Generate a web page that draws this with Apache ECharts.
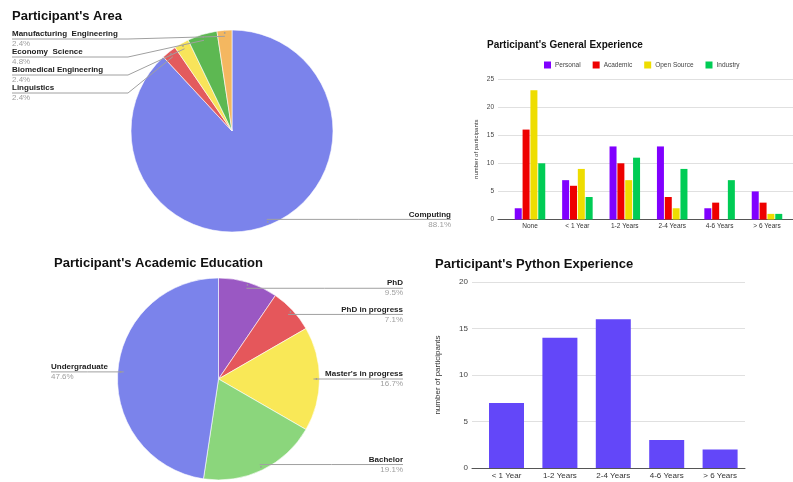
<!DOCTYPE html>
<html><head><meta charset="utf-8">
<script src="https://cdn.jsdelivr.net/npm/echarts@6/dist/echarts.min.js"></script>
<style>html,body{margin:0;padding:0;background:#fff}#c{width:793px;height:482px}</style>
</head><body><div id="c"></div>
<script>
// ---- data ----
const areaNames = ['Computing', 'Linguistics', 'Biomedical Engineering', 'Economy  Science', 'Manufacturing  Engineering'];
const areaCounts = [37, 1, 1, 2, 1];
const eduNames = ['PhD', 'PhD in progress', "Master's in progress", 'Bachelor', 'Undergraduate'];
const eduCounts = [4, 3, 7, 8, 20];
const expCategories = ['None', '< 1 Year', '1-2 Years', '2-4 Years', '4-6 Years', '> 6 Years'];
const expSeriesNames = ['Personal', 'Academic', 'Open Source', 'Industry'];
const expPersonal = [2, 7, 13, 13, 2, 5];
const expAcademic = [16, 6, 10, 4, 3, 3];
const expOpenSource = [23, 9, 7, 2, 0, 1];
const expIndustry = [10, 4, 11, 9, 7, 1];
const pyCategories = ['< 1 Year', '1-2 Years', '2-4 Years', '4-6 Years', '> 6 Years'];
const pyCounts = [7, 14, 16, 3, 2];
const expAxis = {min: 0, max: 25, interval: 5};
const pyAxis = {min: 0, max: 20, interval: 5};

// ---- styles ----
const areaColors = ['#7b83eb', '#e35b5d', '#f8e45a', '#5db852', '#f4b760'];
const eduColors = ['#9a58c3', '#e5575b', '#f9e857', '#8bd67c', '#7b83eb'];
const expColors = ['#8000ff', '#ee0000', '#eedd00', '#00cc55'];
const pyColor = '#6347f9';
const FONT = '"Liberation Sans", Arial, sans-serif';

const chart = echarts.init(document.getElementById('c'), null, {renderer: 'canvas'});

function makeLayout(cx, cy, r, opts) {
  return function (p) {
    const pts = p.labelLinePoints;
    if (!pts) return {};
    const dx = pts[0][0] - cx, dy = pts[0][1] - cy, d = Math.hypot(dx, dy) || 1;
    const q = [cx + dx / d * r * 0.94, cy + dy / d * r * 0.94];
    const o = opts(p.dataIndex, q);
    const y = o.y != null ? o.y : q[1];
    const mid = o.elbow != null ? o.elbow : (q[0] + o.edge) / 2;
    return {
      x: o.edge, y: y, align: o.side, verticalAlign: 'middle',
      labelLinePoints: [q, [mid, y], [o.edge, y]]
    };
  };
}

const pieLabel = {
  show: true,
  position: 'outside',
  formatter: p => '{n|' + p.name + '}\n{p|' + p.percent.toFixed(1) + '%}',
  rich: {
    n: {fontSize: 8, fontWeight: 'bold', color: '#222', lineHeight: 10, fontFamily: FONT},
    p: {fontSize: 8, color: '#9e9e9e', lineHeight: 10, fontFamily: FONT}
  }
};
const pieLine = {show: true, showAbove: true, lineStyle: {color: '#a0a0a0', width: 1}};

const leftYs = [0, 93, 75, 57, 39];

// mode: 'base' coloured sectors; 'labels' transparent overlay carrying labels + guide lines;
// 'dots' transparent ring whose inside labels mark the start of each guide line
function pieSeries(center, names, counts, colors, layoutOpts, mode) {
  const s = {
    type: 'pie', center: center, radius: 101, startAngle: 90, clockwise: true,
    avoidLabelOverlap: false, silent: true, z: mode === 'base' ? 2 : 5,
    itemStyle: mode === 'base' ? {borderColor: '#fff', borderWidth: 0.6} : {borderWidth: 0},
    data: names.map((n, i) => ({name: n, value: counts[i],
      itemStyle: {color: mode === 'base' ? colors[i] : 'rgba(255,255,255,0)'}})),
    label: {show: false},
    labelLine: {show: false}
  };
  if (mode === 'labels') {
    s.label = pieLabel;
    s.labelLine = pieLine;
    s.labelLayout = makeLayout(center[0], center[1], 101, layoutOpts);
  } else if (mode === 'dots') {
    s.radius = [89, 101];
    s.z = 6;
    s.label = {show: true, position: 'inside', formatter: '\u25CF', fontSize: 4, color: '#9a9a9a', lineHeight: 4};
  }
  return s;
}

const areaLayout = (i, q) => i === 0 ? {side: 'right', edge: 451} : {side: 'left', edge: 12, y: leftYs[i], elbow: 128};
const eduLayout = (i, q) => q[0] < 218.5 ? {side: 'left', edge: 51} : {side: 'right', edge: 403};

const option = {
  animation: false,
  textStyle: {fontFamily: FONT},
  title: [
    {text: "Participant's Area", left: 12, top: 9.5, padding: 0, textStyle: {fontSize: 13, fontWeight: 'bold', color: '#111'}},
    {text: "Participant's General Experience", left: 487, top: 40.5, padding: 0, textStyle: {fontSize: 10, fontWeight: 'bold', color: '#111'}},
    {text: "Participant's Academic Education", left: 54, top: 256.5, padding: 0, textStyle: {fontSize: 13, fontWeight: 'bold', color: '#111'}},
    {text: "Participant's Python Experience", left: 435, top: 257.5, padding: 0, textStyle: {fontSize: 13, fontWeight: 'bold', color: '#111'}}
  ],
  legend: {
    data: expSeriesNames, left: 544, top: 61.5, itemWidth: 7, itemHeight: 7, itemGap: 12, icon: 'rect',
    padding: 0, textStyle: {fontSize: 6.5, color: '#444', padding: [0, 0, 0, -1]}
  },
  grid: [
    {left: 498, top: 79, width: 295, height: 140.5},
    {left: 506.3, top: 79, width: 284.4, height: 140.5},
    {left: 472, top: 282, width: 273, height: 186},
    {left: 479.8, top: 282, width: 267, height: 186}
  ],
  xAxis: [
    {gridIndex: 0, type: 'value', min: 0, max: 1, axisLabel: {show: false}, axisTick: {show: false}, splitLine: {show: false},
      axisLine: {show: true, lineStyle: {color: '#555', width: 1}}},
    {gridIndex: 1, type: 'category', data: expCategories, axisLine: {show: false}, axisTick: {show: false},
      axisLabel: {fontSize: 6.5, color: '#333', margin: 3}},
    {gridIndex: 2, type: 'value', min: 0, max: 1, axisLabel: {show: false}, axisTick: {show: false}, splitLine: {show: false},
      axisLine: {show: true, lineStyle: {color: '#555', width: 1}}},
    {gridIndex: 3, type: 'category', data: pyCategories, axisLine: {show: false}, axisTick: {show: false},
      axisLabel: {fontSize: 8, color: '#333', margin: 4}}
  ],
  yAxis: [
    {gridIndex: 0, type: 'value', min: expAxis.min, max: expAxis.max, interval: expAxis.interval,
      axisLabel: {fontSize: 6.5, color: '#444', margin: 4}, axisLine: {show: false}, axisTick: {show: false},
      splitLine: {lineStyle: {color: '#e0e0e0', width: 1}},
      name: 'number of participants', nameLocation: 'middle', nameGap: 19, nameTextStyle: {fontSize: 6, color: '#333'}},
    {gridIndex: 1, type: 'value', min: expAxis.min, max: expAxis.max, interval: expAxis.interval, show: false},
    {gridIndex: 2, type: 'value', min: pyAxis.min, max: pyAxis.max, interval: pyAxis.interval,
      axisLabel: {fontSize: 8, color: '#444', margin: 4}, axisLine: {show: false}, axisTick: {show: false},
      splitLine: {lineStyle: {color: '#e0e0e0', width: 1}},
      name: 'number of participants', nameLocation: 'middle', nameGap: 30, nameTextStyle: {fontSize: 8, color: '#333'}},
    {gridIndex: 3, type: 'value', min: pyAxis.min, max: pyAxis.max, interval: pyAxis.interval, show: false}
  ],
  series: [
    pieSeries([232, 131], areaNames, areaCounts, areaColors, areaLayout, 'base'),
    pieSeries([218.5, 379], eduNames, eduCounts, eduColors, eduLayout, 'base'),
    pieSeries([232, 131], areaNames, areaCounts, areaColors, areaLayout, 'labels'),
    pieSeries([218.5, 379], eduNames, eduCounts, eduColors, eduLayout, 'labels'),
    pieSeries([232, 131], areaNames, areaCounts, areaColors, areaLayout, 'dots'),
    pieSeries([218.5, 379], eduNames, eduCounts, eduColors, eduLayout, 'dots'),
    {type: 'bar', name: expSeriesNames[0], xAxisIndex: 1, yAxisIndex: 1, data: expPersonal, barWidth: 7, barGap: '12%', itemStyle: {color: expColors[0]}},
    {type: 'bar', name: expSeriesNames[1], xAxisIndex: 1, yAxisIndex: 1, data: expAcademic, barWidth: 7, barGap: '12%', itemStyle: {color: expColors[1]}},
    {type: 'bar', name: expSeriesNames[2], xAxisIndex: 1, yAxisIndex: 1, data: expOpenSource, barWidth: 7, barGap: '12%', itemStyle: {color: expColors[2]}},
    {type: 'bar', name: expSeriesNames[3], xAxisIndex: 1, yAxisIndex: 1, data: expIndustry, barWidth: 7, barGap: '12%', itemStyle: {color: expColors[3]}},
    {type: 'bar', name: 'Python', xAxisIndex: 3, yAxisIndex: 3, data: pyCounts, barWidth: 35, itemStyle: {color: pyColor}}
  ]
};
chart.setOption(option);
</script>
</body></html>
